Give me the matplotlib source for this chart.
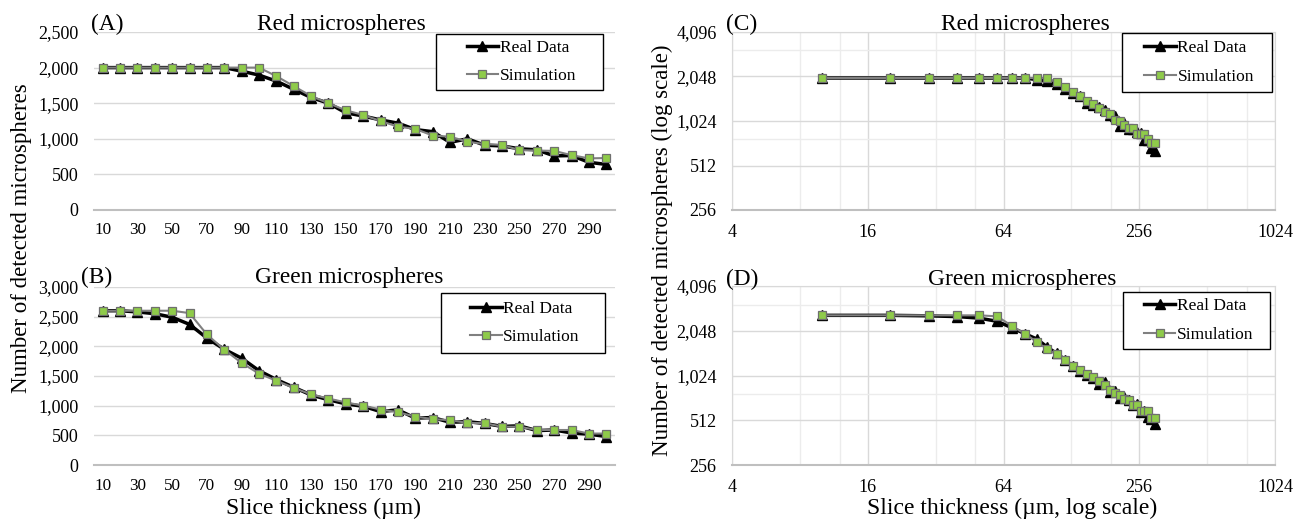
import matplotlib
matplotlib.use("Agg")
import matplotlib.pyplot as plt
from matplotlib.patches import Rectangle
from matplotlib.ticker import FixedLocator, FuncFormatter, NullFormatter

plt.rcParams['font.family'] = ['Liberation Serif', 'DejaVu Serif']

# slice thickness (um)
thickness = list(range(10, 310, 10))

# red microspheres
red_real = [2000, 2000, 2000, 2000, 2000, 2000, 2000, 2000, 1950, 1895,
            1810, 1695, 1580, 1500, 1365, 1320, 1265, 1220, 1130, 1100,
            950, 1000, 910, 900, 860, 845, 760, 765, 670, 640]
red_sim = [2000, 2000, 2000, 2000, 2000, 2000, 2000, 2000, 2000, 2000,
           1880, 1740, 1600, 1500, 1400, 1335, 1250, 1170, 1140, 1045,
           1030, 960, 925, 915, 840, 835, 830, 770, 725, 730]

# green microspheres
green_real = [2600, 2600, 2580, 2550, 2490, 2370, 2140, 1950, 1800, 1590,
              1440, 1310, 1180, 1100, 1030, 990, 900, 930, 790, 800,
              720, 730, 700, 650, 660, 580, 590, 540, 520, 480]
green_sim = [2600, 2600, 2600, 2600, 2600, 2560, 2200, 1945, 1720, 1540,
             1420, 1300, 1190, 1120, 1055, 1000, 935, 890, 815, 775,
             755, 710, 705, 645, 645, 590, 590, 590, 530, 530]

lin_xticks = list(range(10, 300, 20))
log_xticks = [4, 16, 64, 256, 1024]
log_xminor = [8, 12, 32, 48, 128, 192, 512, 768]
log_yticks = [256, 512, 1024, 2048, 4096]
log_yminor = [768, 3072]

GRID = '#d9d9d9'
AXIS = '#bfbfbf'
GREEN = '#8fcb4a'
SIMLINE = '#808080'

fig = plt.figure(figsize=(13.08, 5.21), dpi=100)
W, H = 1308, 521


def px_axes(left, top, right, bottom):
    return fig.add_axes([left / W, 1 - bottom / H, (right - left) / W, (bottom - top) / H])


def draw(ax, box, real, sim):
    # box = legend frame in pixels (left, top, right, bottom)
    ax.plot(thickness, real, color='black', lw=2.5, marker='^', ms=7,
            mfc='black', mec='black', label='Real Data', zorder=3)
    ax.plot(thickness, sim, color=SIMLINE, lw=1.5, marker='s', ms=6.2,
            mfc=GREEN, mec='#6f6f6f', mew=0.9, label='Simulation', zorder=4)

    # pixel box -> axes fraction
    inv = ax.transAxes.inverted()
    x0, y0 = inv.transform((box[0], H - box[3]))
    x1, y1 = inv.transform((box[2], H - box[1]))
    ax.add_patch(Rectangle((x0, y0), x1 - x0, y1 - y0, transform=ax.transAxes,
                           facecolor='white', edgecolor='black', lw=1.0,
                           zorder=6, clip_on=False))
    leg = ax.legend(loc='center', bbox_to_anchor=((x0 + x1) / 2 + 0.004, (y0 + y1) / 2),
                    fontsize=12.5, frameon=False,
                    handlelength=1.8, handletextpad=0.1, borderpad=0,
                    labelspacing=0.72, borderaxespad=0)
    leg.set_zorder(7)
    ax.tick_params(length=0, labelsize=13)
    ax.set_axisbelow(True)


comma = FuncFormatter(lambda v, p: f'{int(v):,}')

# linear panels
for top, bottom, real, sim, ymax, box in [
        (32, 210, red_real, red_sim, 2500, (436, 34, 603, 90)),
        (287, 465, green_real, green_sim, 3000, (441, 293, 605, 353))]:
    ax = px_axes(94, top, 615, bottom)
    ax.set_xlim(5, 305)
    ax.set_ylim(0, ymax)
    draw(ax, box, real, sim)
    ax.set_yticks(range(0, ymax + 1, 500))
    ax.yaxis.set_major_formatter(comma)
    ax.set_xticks(lin_xticks)
    ax.tick_params(axis='x', labelsize=12.3, pad=9)
    ax.tick_params(axis='y', pad=11)
    ax.grid(axis='y', color=GRID, lw=1.0)
    for s in ['left', 'right', 'top']:
        ax.spines[s].set_visible(False)
    ax.spines['bottom'].set_color(AXIS)
    ax.spines['bottom'].set_linewidth(1.5)

# log panels
for top, bottom, real, sim, box in [
        (32, 210, red_real, red_sim, (1122, 33, 1272, 92)),
        (286, 465, green_real, green_sim, (1123, 292, 1270, 349))]:
    ax = px_axes(732, top, 1275, bottom)
    ax.set_xscale('log', base=2)
    ax.set_yscale('log', base=2)
    ax.set_xlim(4, 1024)
    ax.set_ylim(256, 4096)
    draw(ax, box, real, sim)
    ax.xaxis.set_major_locator(FixedLocator(log_xticks))
    ax.xaxis.set_minor_locator(FixedLocator(log_xminor))
    ax.yaxis.set_major_locator(FixedLocator(log_yticks))
    ax.yaxis.set_minor_locator(FixedLocator(log_yminor))
    ax.xaxis.set_major_formatter(FuncFormatter(lambda v, p: f'{int(v)}'))
    ax.yaxis.set_major_formatter(comma)
    ax.xaxis.set_minor_formatter(NullFormatter())
    ax.yaxis.set_minor_formatter(NullFormatter())
    ax.tick_params(which='both', length=0)
    ax.tick_params(axis='x', pad=10)
    ax.tick_params(axis='y', pad=11)
    ax.grid(which='major', color=GRID, lw=1.0)
    ax.grid(which='minor', color='#ececec', lw=1.0)
    for s in ['left', 'right', 'top']:
        ax.spines[s].set_color(GRID)
    ax.spines['bottom'].set_color(AXIS)
    ax.spines['bottom'].set_linewidth(1.5)

# titles and panel letters
tsize = 16.8
for x, y, t in [(341, 30, 'Red microspheres'), (349, 283, 'Green microspheres'),
                (1025, 30, 'Red microspheres'), (1022, 285, 'Green microspheres')]:
    fig.text(x / W, 1 - y / H, t, ha='center', va='baseline', fontsize=tsize)
for x, y, t in [(107, 30, '(A)'), (97, 283, '(B)'), (742, 30, '(C)'), (742, 285, '(D)')]:
    fig.text(x / W, 1 - y / H, t, ha='center', va='baseline', fontsize=tsize)

# axis labels
fig.text(22 / W, 1 - 238 / H, 'Number of detected microspheres', rotation=90,
         ha='center', va='center', fontsize=16.5)
fig.text(662 / W, 1 - 250 / H, 'Number of detected microspheres (log scale)', rotation=90,
         ha='center', va='center', fontsize=16.5)
fig.text(324 / W, 1 - 508 / H, 'Slice thickness (µm)', ha='center', va='center', fontsize=17)
fig.text(1012 / W, 1 - 508 / H, 'Slice thickness (µm, log scale)', ha='center', va='center',
         fontsize=17)

fig.savefig('out.png', dpi=100)
